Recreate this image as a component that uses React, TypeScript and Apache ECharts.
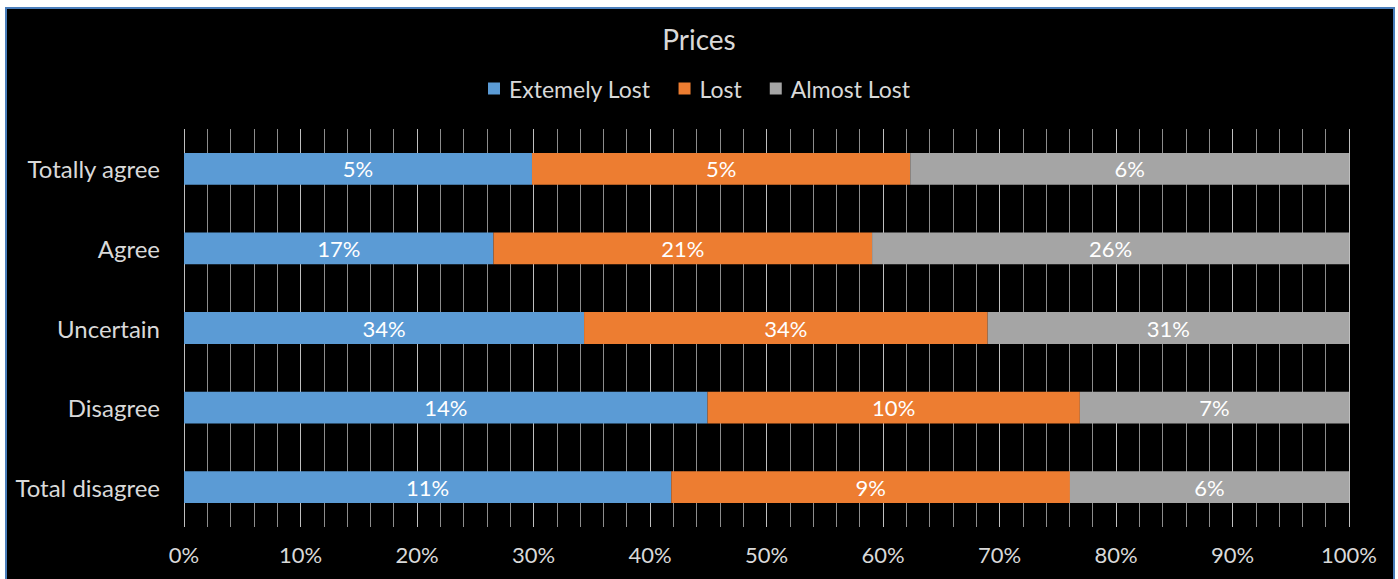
import React, { useEffect, useRef } from "react";
import * as echarts from "echarts";

const categories = ["Totally agree", "Agree", "Uncertain", "Disagree", "Total disagree"];
const seriesNames = ["Extemely Lost", "Lost", "Almost Lost"];
const extremelyLost = [4.6, 17, 34.1, 14.2, 11];
const lost = [5.0, 20.8, 34.4, 10.1, 9];
const almostLost = [5.8, 26.2, 30.8, 7.3, 6.3];
const colors = ["#5b9bd5", "#ed7d31", "#a5a5a5"];

const FONT = "Lato, 'Open Sans', sans-serif";

export default function App() {
  const ref = useRef<HTMLDivElement>(null);
  useEffect(() => {
    if (!ref.current) return;
    const chart = echarts.init(ref.current, undefined, { renderer: "svg" });
    const raw = [extremelyLost, lost, almostLost];
    const totals = categories.map((_, i) => raw.reduce((s, arr) => s + arr[i], 0));
    chart.setOption({
      animation: false,
      backgroundColor: "transparent",
      color: colors,
      textStyle: { fontFamily: FONT },
      title: {
        text: "Prices",
        left: "center",
        top: 20,
        textStyle: { color: "#d9d9d9", fontSize: 28, fontWeight: "normal", fontFamily: FONT },
      },
      legend: {
        top: 72,
        left: "center",
        itemWidth: 12,
        itemHeight: 12,
        itemGap: 28,
        icon: "rect",
        textStyle: { color: "#d9d9d9", fontSize: 23, fontFamily: FONT, padding: [0, 0, 0, 4] },
        data: seriesNames,
      },
      grid: { left: 184, right: 49, top: 129, bottom: 52, containLabel: false },
      xAxis: {
        type: "value",
        min: 0,
        max: 100,
        interval: 10,
        axisLine: { show: false },
        axisTick: { show: false },
        axisLabel: {
          color: "#d9d9d9",
          fontSize: 22,
          margin: 16,
          fontFamily: FONT,
          formatter: (v: number) => v + "%",
        },
        splitLine: { show: true, lineStyle: { color: "#bfbfbf", width: 1 } },
        minorTick: { show: false, splitNumber: 5 },
        minorSplitLine: { show: true, lineStyle: { color: "#8c8c8c", width: 1 } },
      },
      yAxis: {
        type: "category",
        inverse: true,
        data: categories,
        axisLine: { show: false },
        axisTick: { show: false },
        axisLabel: { color: "#d9d9d9", fontSize: 24, margin: 24, fontFamily: FONT },
      },
      series: seriesNames.map((name, si) => ({
        name,
        type: "bar",
        stack: "total",
        barCategoryGap: "60%",
        data: raw[si].map((v, i) => ({ value: (v / totals[i]) * 100, raw: v })),
        label: {
          show: true,
          position: "inside",
          color: "#ffffff",
          fontSize: 22,
          fontFamily: FONT,
          formatter: (p: any) => Math.round(p.data.raw) + "%",
        },
        itemStyle: { color: colors[si] },
      })),
    });
    return () => chart.dispose();
  }, []);
  return (
    <div style={{ position: "fixed", left: 0, top: 0, width: 1398, height: 579, background: "#ffffff", overflow: "hidden" }}>
      <div
        style={{
          position: "absolute",
          left: 5,
          top: 7,
          width: 1386,
          height: 600,
          background: "#000000",
          border: "2px solid #4a7ebb",
        }}
      />
      <div ref={ref} style={{ position: "absolute", left: 0, top: 0, width: 1398, height: 579 }} />
    </div>
  );
}
